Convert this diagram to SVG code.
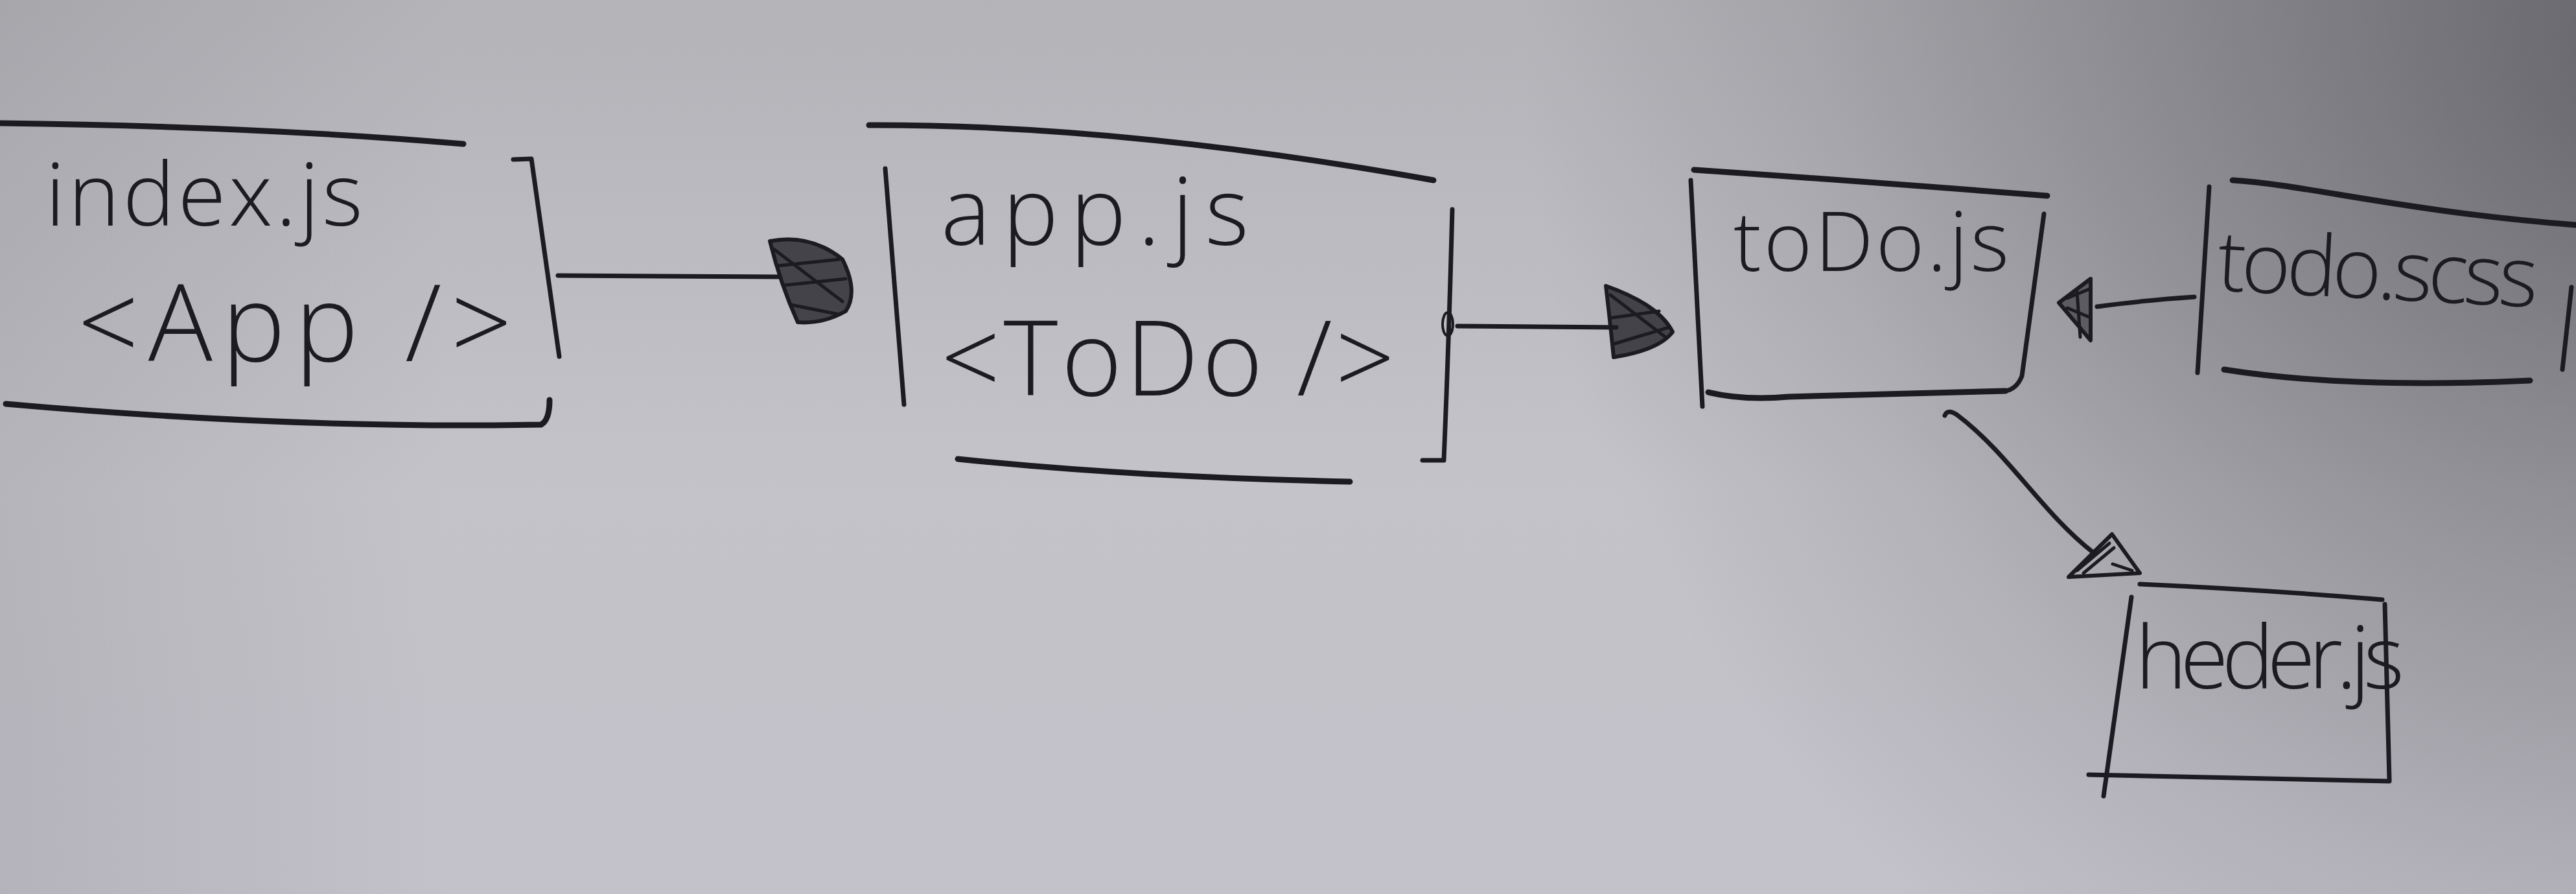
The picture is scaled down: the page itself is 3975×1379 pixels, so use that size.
<svg xmlns="http://www.w3.org/2000/svg" width="3975" height="1379" viewBox="0 0 3975 1379">
<defs>
<linearGradient id="bg" gradientUnits="userSpaceOnUse" x1="0" y1="0" x2="0" y2="1379">
<stop offset="0" stop-color="#b3b3b8"/>
<stop offset="0.55" stop-color="#c4c3c9"/>
<stop offset="1" stop-color="#c3c1c9"/>
</linearGradient>
<radialGradient id="shade" gradientUnits="userSpaceOnUse" cx="4100" cy="80" r="1750">
<stop offset="0" stop-color="#35343a" stop-opacity="0.62"/>
<stop offset="0.4" stop-color="#35343a" stop-opacity="0.36"/>
<stop offset="0.75" stop-color="#35343a" stop-opacity="0.12"/>
<stop offset="1" stop-color="#35343a" stop-opacity="0"/>
</radialGradient>
<linearGradient id="leftshade" gradientUnits="userSpaceOnUse" x1="0" y1="0" x2="700" y2="0">
<stop offset="0" stop-color="#35343a" stop-opacity="0.1"/>
<stop offset="1" stop-color="#35343a" stop-opacity="0"/>
</linearGradient>
<style>
.ink{fill:none;stroke:#1c1b21;stroke-width:7;stroke-linecap:round;stroke-linejoin:round}
.thick{stroke-width:9}
.head{fill:#1c1b21;fill-opacity:0.75;stroke:#1c1b21;stroke-width:6;stroke-linejoin:round}
.hatch{fill:none;stroke:#1c1b21;stroke-width:5;stroke-linecap:round}
.txt{font-family:"Open Sans","Liberation Sans",sans-serif;font-weight:300;fill:#1c1b21}
</style>
</defs>
<rect x="0" y="0" width="3975" height="1379" fill="url(#bg)"/>
<rect x="0" y="0" width="3975" height="1379" fill="url(#leftshade)"/>
<rect x="0" y="0" width="3975" height="1379" fill="url(#shade)"/>

<g id="connectors">
<g id="edge-index-app">
<path class="ink" d="M861,425 L1201,427"/>
<path class="head" d="M1188,372 Q1250,360 1300,400 Q1325,450 1305,480 Q1270,500 1231,497 Q1205,440 1188,372 Z"/>
<path class="hatch" d="M1195,385 L1300,465 M1200,410 L1295,400 M1210,440 L1305,430 M1220,470 L1295,485"/>
</g>
<g id="edge-app-todo">
<ellipse class="ink" cx="2234" cy="500" rx="8" ry="18" style="stroke-width:4"/>
<path class="ink" d="M2249,503 L2494,505"/>
<path class="head" d="M2478,441 Q2560,470 2581,512 Q2560,540 2490,551 Q2485,500 2478,441 Z"/>
<path class="hatch" d="M2485,455 L2570,520 M2488,490 L2560,480 M2492,530 L2575,505"/>
</g>
<g id="edge-scss-todo">
<path class="ink" d="M3386,458 Q3300,464 3236,473"/>
<path class="head" d="M3226,430 L3177,467 L3226,525 Z" style="fill-opacity:0.5"/>
<path class="hatch" d="M3190,460 L3226,445 M3190,475 L3226,490 M3205,450 L3210,520"/>
</g>
<g id="edge-todo-header">
<path class="ink" d="M3001,641 Q3005,630 3020,640 C3100,700 3150,790 3231,853"/>
<path class="ink" d="M3192,890 L3259,824 L3302,884 Z" style="stroke-width:6"/>
<path class="hatch" d="M3205,880 L3255,838 M3215,884 L3262,845 M3260,870 L3290,880"/>
</g>
</g>

<g id="node-index">
<path class="ink thick" d="M0,190 Q400,195 715,222"/>
<path class="ink" d="M792,246 L820,245 L863,550"/>
<path class="ink thick" d="M9,623 Q450,662 835,655 Q848,648 848,617"/>
<text class="txt" x="70" y="348" font-size="135" textLength="490" lengthAdjust="spacing">index.js</text>
<text class="txt" x="120" y="557" font-size="165" textLength="670" lengthAdjust="spacing">&lt;App /&gt;</text>
</g>

<g id="node-app">
<path class="ink thick" d="M1341,193 Q1735,192 2212,278"/>
<path class="ink" d="M1366,260 Q1380,440 1395,624"/>
<path class="ink" d="M2241,323 Q2236,520 2228,710 L2195,710"/>
<path class="ink thick" d="M1478,708 Q1747,736 2083,743"/>
<text class="txt" x="1452" y="378" font-size="145" textLength="475" lengthAdjust="spacing">app.js</text>
<text class="txt" x="1452" y="610" font-size="160" textLength="700" lengthAdjust="spacing">&lt;ToDo /&gt;</text>
</g>

<g id="node-todo">
<path class="ink thick" d="M2614,262 Q2850,278 3159,302"/>
<path class="ink" d="M2609,278 L2627,627"/>
<path class="ink" d="M3154,330 L3120,580 Q3112,600 3095,603"/>
<path class="ink thick" d="M2636,605 Q2690,618 2760,612 L3095,603"/>
<text class="txt" x="2675" y="418" font-size="128" textLength="425" lengthAdjust="spacing">toDo.js</text>
</g>

<g id="node-scss">
<path class="ink thick" d="M3445,278 C3560,285 3700,325 3975,347"/>
<path class="ink" d="M3409,288 L3391,575"/>
<path class="ink" d="M3968,443 L3954,570"/>
<path class="ink thick" d="M3432,570 Q3620,600 3904,587"/>
<text class="txt" x="3420" y="448" font-size="130" textLength="495" lengthAdjust="spacing" transform="rotate(3 3420 448)">todo.scss</text>
</g>

<g id="node-header">
<path class="ink" d="M3302,901 Q3500,910 3676,925"/>
<path class="ink" d="M3289,921 L3246,1228"/>
<path class="ink" d="M3680,932 L3687,1203"/>
<path class="ink" d="M3223,1195 L3687,1205"/>
<text class="txt" x="3295" y="1062" font-size="135" textLength="415" lengthAdjust="spacing">heder.js</text>
</g>
</svg>
